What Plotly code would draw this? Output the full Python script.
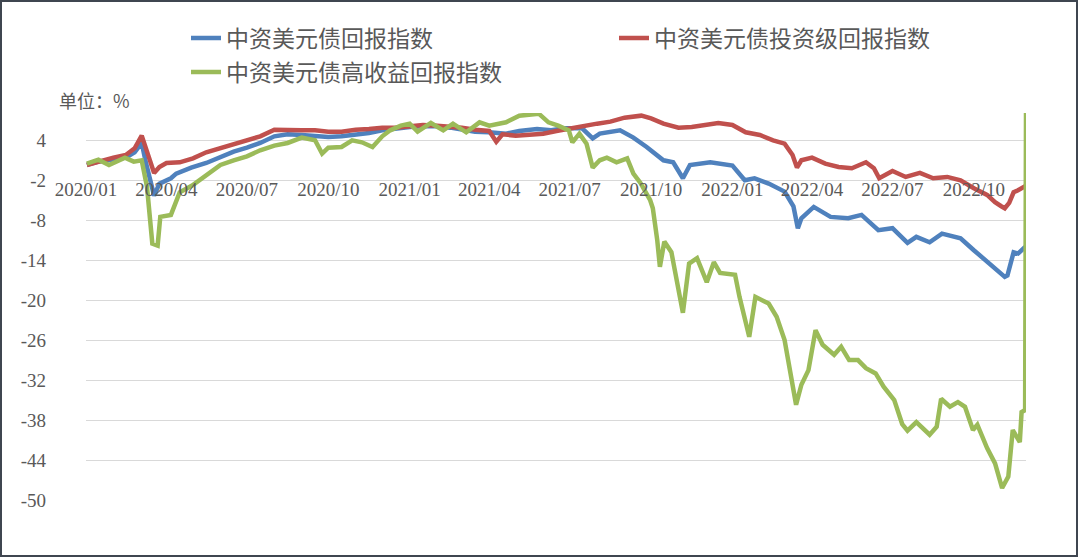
import plotly.graph_objects as go

# ---------------- data ----------------
blue_name = "中资美元债回报指数"
red_name = "中资美元债投资级回报指数"
green_name = "中资美元债高收益回报指数"

blue_dates = ["2020-01-02","2020-01-15","2020-02-01","2020-02-15","2020-02-25","2020-03-04","2020-03-09","2020-03-18","2020-03-24","2020-04-06","2020-04-12","2020-04-29","2020-05-16","2020-06-01","2020-06-16","2020-07-01","2020-07-16","2020-08-01","2020-08-16","2020-09-01","2020-09-16","2020-10-01","2020-10-16","2020-11-01","2020-11-16","2020-12-01","2020-12-16","2021-01-01","2021-01-16","2021-02-01","2021-02-16","2021-03-01","2021-03-16","2021-04-01","2021-04-20","2021-05-05","2021-05-25","2021-06-10","2021-06-25","2021-07-15","2021-07-27","2021-08-04","2021-08-27","2021-09-11","2021-09-26","2021-10-15","2021-10-26","2021-11-06","2021-11-14","2021-12-07","2022-01-01","2022-01-15","2022-01-26","2022-02-11","2022-03-01","2022-03-11","2022-03-16","2022-03-20","2022-04-03","2022-04-22","2022-05-12","2022-05-27","2022-06-15","2022-07-01","2022-07-18","2022-07-28","2022-08-12","2022-08-26","2022-09-16","2022-10-01","2022-10-24","2022-11-05","2022-11-08","2022-11-15","2022-11-20","2022-11-28"]
blue_values = [0.3,0.8,1.1,1.4,2.2,3.6,0.5,-4.3,-2.5,-1.7,-1.0,-0.1,0.6,1.5,2.3,2.9,3.6,4.6,4.9,4.8,4.6,4.5,4.6,4.8,5.1,5.5,5.8,6.0,6.1,6.1,5.9,5.6,5.3,5.2,5.0,5.4,5.7,5.5,5.8,5.8,4.3,5.0,5.5,4.4,3.0,1.0,0.7,-1.7,0.3,0.7,0.2,-2.0,-1.7,-2.5,-3.7,-5.9,-9.2,-7.7,-6.0,-7.5,-7.7,-7.2,-9.5,-9.2,-11.4,-10.5,-11.3,-10.0,-10.7,-12.5,-15.0,-16.5,-16.3,-12.8,-13.0,-12.0]

red_dates = ["2020-01-02","2020-01-15","2020-02-01","2020-02-15","2020-02-25","2020-03-04","2020-03-09","2020-03-18","2020-03-24","2020-04-01","2020-04-16","2020-05-01","2020-05-16","2020-06-01","2020-06-16","2020-07-01","2020-07-16","2020-08-01","2020-08-16","2020-09-01","2020-09-16","2020-10-01","2020-10-16","2020-11-01","2020-11-16","2020-12-01","2020-12-16","2021-01-01","2021-01-16","2021-02-01","2021-02-16","2021-03-01","2021-03-16","2021-04-01","2021-04-09","2021-04-16","2021-05-01","2021-05-16","2021-06-01","2021-06-16","2021-07-01","2021-07-15","2021-08-01","2021-08-16","2021-09-01","2021-09-20","2021-10-01","2021-10-15","2021-11-01","2021-11-16","2021-12-01","2021-12-16","2022-01-01","2022-01-16","2022-02-01","2022-02-16","2022-03-01","2022-03-10","2022-03-15","2022-03-20","2022-04-01","2022-04-16","2022-05-01","2022-05-16","2022-06-01","2022-06-10","2022-06-16","2022-07-01","2022-07-16","2022-08-01","2022-08-16","2022-09-01","2022-09-16","2022-10-01","2022-10-16","2022-10-25","2022-11-01","2022-11-05","2022-11-10","2022-11-15","2022-11-20","2022-11-28"]
red_values = [0.3,0.8,1.4,1.8,2.8,4.7,2.5,-0.9,0.0,0.6,0.7,1.3,2.2,2.8,3.4,4.0,4.6,5.6,5.5,5.5,5.5,5.3,5.3,5.6,5.7,5.9,5.9,6.1,6.3,6.2,6.1,5.9,5.6,5.4,3.8,4.9,4.7,4.9,5.0,5.4,5.8,6.2,6.5,6.8,7.4,7.7,7.3,6.5,5.9,6.0,6.3,6.6,6.3,5.2,4.8,4.0,3.5,1.8,-0.1,1.0,1.4,0.5,0.0,-0.2,0.7,-0.2,-1.7,-0.6,-1.5,-0.9,-1.7,-1.5,-2.0,-3.2,-4.2,-5.3,-5.9,-6.2,-5.4,-3.8,-3.5,-2.9]

green_dates = ["2020-01-02","2020-01-15","2020-01-27","2020-02-03","2020-02-14","2020-02-24","2020-03-04","2020-03-10","2020-03-16","2020-03-22","2020-03-25","2020-04-06","2020-04-12","2020-04-16","2020-04-30","2020-05-16","2020-06-01","2020-06-16","2020-07-01","2020-07-16","2020-08-01","2020-08-16","2020-09-01","2020-09-16","2020-09-24","2020-10-01","2020-10-16","2020-10-28","2020-11-08","2020-11-20","2020-12-01","2020-12-10","2020-12-22","2021-01-01","2021-01-10","2021-01-25","2021-02-08","2021-02-19","2021-03-06","2021-03-21","2021-04-01","2021-04-20","2021-05-05","2021-05-27","2021-06-07","2021-06-18","2021-06-30","2021-07-04","2021-07-12","2021-07-20","2021-07-27","2021-08-04","2021-08-12","2021-08-23","2021-09-04","2021-09-11","2021-09-19","2021-09-30","2021-10-03","2021-10-08","2021-10-11","2021-10-16","2021-10-24","2021-11-06","2021-11-13","2021-11-22","2021-12-03","2021-12-11","2021-12-18","2022-01-04","2022-01-09","2022-01-20","2022-01-27","2022-02-11","2022-02-20","2022-03-01","2022-03-08","2022-03-14","2022-03-20","2022-03-28","2022-04-05","2022-04-13","2022-04-26","2022-05-04","2022-05-13","2022-05-23","2022-06-01","2022-06-12","2022-06-21","2022-07-03","2022-07-12","2022-07-18","2022-07-28","2022-08-12","2022-08-20","2022-08-25","2022-09-04","2022-09-13","2022-09-21","2022-09-30","2022-10-05","2022-10-16","2022-10-25","2022-11-02","2022-11-09","2022-11-14","2022-11-22","2022-11-24","2022-11-28","2022-11-29"]
green_values = [0.5,1.1,0.3,0.8,1.4,0.8,1.0,-3.0,-11.5,-11.8,-7.5,-7.2,-5.4,-3.8,-2.8,-1.3,0.3,1.0,1.6,2.5,3.2,3.6,4.4,4.0,2.0,2.9,3.0,4.0,3.7,3.0,4.6,5.5,6.2,6.5,5.3,6.6,5.5,6.5,5.2,6.7,6.2,6.7,7.7,8.0,6.7,6.2,5.5,3.7,5.0,3.5,-0.1,1.0,1.4,0.7,1.3,-1.0,-2.4,-5.0,-6.2,-11.0,-15.0,-11.2,-12.8,-21.9,-14.5,-13.7,-17.3,-14.3,-15.9,-16.2,-19.5,-25.5,-19.5,-20.5,-22.5,-26.0,-31.5,-35.7,-32.7,-30.5,-24.5,-26.7,-28.2,-27.0,-29.0,-29.0,-30.2,-31.0,-33.0,-35.0,-38.6,-39.6,-38.3,-40.2,-39.0,-34.8,-36.0,-35.3,-36.0,-39.5,-38.7,-42.2,-44.5,-48.2,-46.5,-39.5,-41.3,-36.8,-36.5,8.1]

x_tick_dates = ["2020-01-01","2020-04-01","2020-07-01","2020-10-01","2021-01-01","2021-04-01","2021-07-01","2021-10-01","2022-01-01","2022-04-01","2022-07-01","2022-10-01"]
x_tick_labels = ["2020/01","2020/04","2020/07","2020/10","2021/01","2021/04","2021/07","2021/10","2022/01","2022/04","2022/07","2022/10"]
y_tick_values = [4, -2, -8, -14, -20, -26, -32, -38, -44, -50]
unit_label = "单位：%"

# ---------------- figure ----------------
W, H = 1080, 558
L, R, T, B = 86, 1026, 113, 500
Y_MIN, Y_MAX = -50, 8.1

def px_x(p):
    return (p - L) / (R - L)

def px_y(p):
    return (B - p) / (B - T)

cjk = "Noto Sans CJK SC"
serif = "Liberation Serif"
txt_col = "#595959"

fig = go.Figure()
fig.add_trace(go.Scatter(x=blue_dates, y=blue_values, name=blue_name, mode="lines",
                         line=dict(color="#4F81BD", width=4.5), legend="legend"))
fig.add_trace(go.Scatter(x=red_dates, y=red_values, name=red_name, mode="lines",
                         line=dict(color="#C0504D", width=4.5), legend="legend2"))
fig.add_trace(go.Scatter(x=green_dates, y=green_values, name=green_name, mode="lines",
                         line=dict(color="#9BBB59", width=4.5), legend="legend3"))

leg_common = dict(orientation="h", xanchor="left", yanchor="middle",
                  font=dict(family=cjk, size=23, color=txt_col),
                  bgcolor="rgba(0,0,0,0)", itemwidth=30)

fig.update_layout(
    width=W, height=H,
    margin=dict(l=L, r=W - R, t=T, b=H - B),
    paper_bgcolor="white", plot_bgcolor="white",
    showlegend=True,
    legend=dict(x=px_x(186), y=px_y(38), **leg_common),
    legend2=dict(x=px_x(614), y=px_y(38), **leg_common),
    legend3=dict(x=px_x(186), y=px_y(72), **leg_common),
    xaxis=dict(
        type="date",
        range=["2020-01-01", "2022-11-29"],
        tickvals=x_tick_dates, ticktext=x_tick_labels,
        showgrid=False, zeroline=False, showline=False,
        ticks="", anchor="free",
        position=(-2 - Y_MIN) / (Y_MAX - Y_MIN),
        tickfont=dict(family=serif, size=19, color=txt_col),
        ticklabelstandoff=-4,
    ),
    yaxis=dict(
        range=[Y_MIN, Y_MAX],
        tickvals=y_tick_values,
        ticktext=[str(v) for v in y_tick_values],
        showgrid=True, gridcolor="#D9D9D9", gridwidth=1,
        zeroline=False, showline=False, ticks="",
        tickfont=dict(family=serif, size=19, color=txt_col),
        ticklabelstandoff=39,
    ),
    annotations=[dict(
        text=unit_label, xref="paper", yref="paper",
        x=px_x(57), y=px_y(100), xanchor="left", yanchor="middle",
        showarrow=False, font=dict(family=cjk, size=18, color=txt_col),
    )],
    shapes=[dict(
        type="rect", xref="paper", yref="paper",
        x0=px_x(1), x1=px_x(1077), y0=px_y(556), y1=px_y(1),
        line=dict(color="#3F4650", width=2), layer="above",
    )],
)

fig.write_html("out.html")
